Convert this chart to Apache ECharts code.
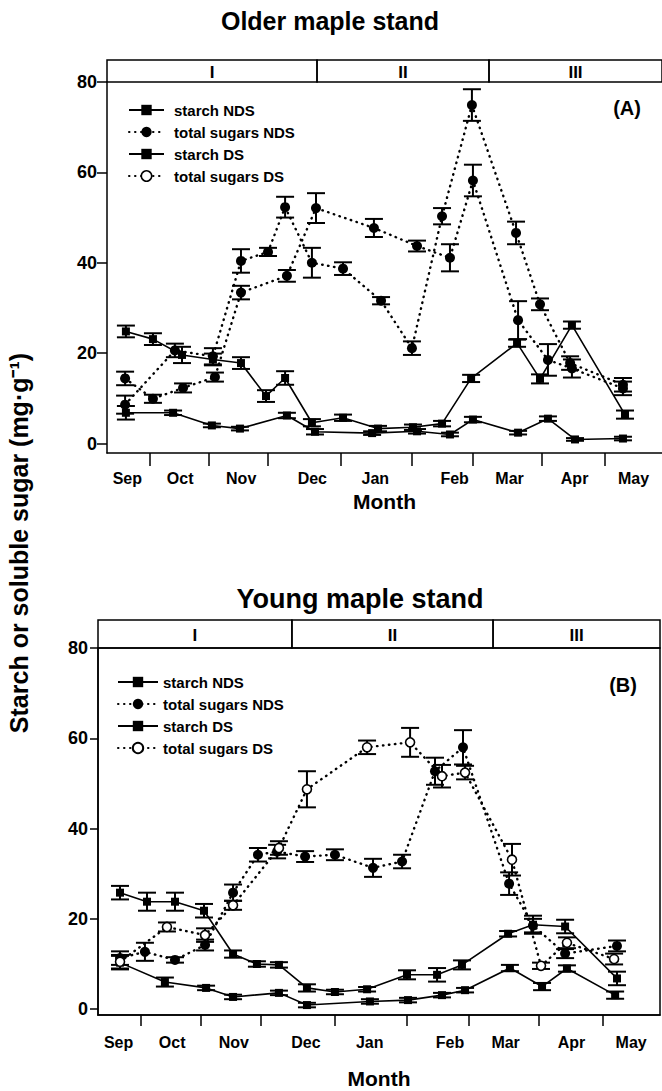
<!DOCTYPE html>
<html><head><meta charset="utf-8">
<script src="https://cdn.jsdelivr.net/npm/echarts@6/dist/echarts.min.js"></script>
<style>html,body{margin:0;padding:0;background:#fff}#c{width:662px;height:1091px}</style>
</head><body><div id="c"></div>
<script>
// ---- axis / category data ----
const DAY_MAX = 273; // days from 1 Sep (axis span)
const monthNames = ['Sep','Oct','Nov','Dec','Jan','Feb','Mar','Apr','May'];
const monthLabelDays = [10, 36, 66, 101, 132, 171, 198, 230, 259];
const monthBoundaryDays = [21, 50, 79, 115, 150, 180, 214, 245];
const yTicks = [0, 20, 40, 60, 80];
const phaseNames = ['I', 'II', 'III'];
const phaseBoundsA = [0, 103.3, 187.9, 273];
const phaseBoundsB = [0, 94.2, 191.9, 273];

// ---- Panel A: older maple stand ----
const A_SNDS_X = [9.3,22.6,36.9,52.1,65.9,78.2,87.6,100.8,116.1,133.3,150.5,164.8,179.1,201.7,213.0,228.7,254.8];
const A_SNDS_Y = [24.8,23.1,19.6,18.6,17.8,10.5,14.5,4.6,5.7,3.3,3.6,4.4,14.4,22.2,14.3,26.2,6.4];
const A_SNDS_E = [1.3,1.3,1.8,1.3,1.3,1.3,1.5,0.8,0.7,0.6,0.6,0.6,0.8,0.8,1.0,0.8,0.9];

const A_SDS_X = [9.3,32.5,51.6,65.4,88.5,102.3,130.4,152.5,168.7,180.0,202.2,216.9,230.2,253.8];
const A_SDS_Y = [6.8,6.8,4.0,3.3,6.2,2.6,2.3,2.7,2.0,5.3,2.4,5.5,0.9,1.1];
const A_SDS_E = [1.5,0.5,0.4,0.4,0.6,0.6,0.4,0.5,0.4,0.6,0.4,0.5,0.3,0.4];

const A_TNDS_X = [8.9,33.4,52.1,65.9,79.2,87.6,100.8,116.1,134.8,150.0,164.8,179.5,201.2,213.0,227.8,253.8];
const A_TNDS_Y = [8.6,20.6,19.3,40.4,42.4,52.3,40.0,38.7,31.6,21.1,50.3,74.9,46.6,30.8,17.8,13.0];
const A_TNDS_E = [2.0,1.5,1.8,2.6,0.9,2.3,3.3,1.4,0.8,1.5,1.8,3.5,2.5,1.3,1.5,1.5];

const A_TDS_X = [8.9,22.6,37.4,53.1,65.9,88.5,102.8,131.3,152.5,168.7,180.0,202.2,216.9,228.7,253.8];
const A_TDS_Y = [14.4,9.9,12.3,14.7,33.4,37.1,52.1,47.7,43.7,41.1,58.2,27.3,18.5,16.6,12.2];
const A_TDS_E = [1.5,0.9,1.0,1.0,1.5,1.3,3.3,2.0,1.2,3.0,3.5,4.2,3.5,2.0,1.5];

// ---- Panel B: young maple stand ----
const B_SNDS_X = [10.7,23.8,37.4,51.5,65.6,77.2,87.9,101.5,115.1,130.7,150.1,164.7,176.8,199.2,211.3,226.9,252.1];
const B_SNDS_Y = [25.8,23.8,23.8,21.8,12.2,10.0,9.8,4.7,3.8,4.4,7.6,7.6,9.8,16.7,18.7,18.3,6.8];
const B_SNDS_E = [1.5,2.0,2.0,1.5,0.8,0.6,0.6,0.8,0.5,0.5,1.0,1.5,1.0,0.6,2.0,1.5,1.5];

const B_SDS_X = [10.7,32.5,52.5,65.6,87.9,101.5,132.1,150.6,167.1,178.3,200.1,215.7,227.8,251.2];
const B_SDS_Y = [10.3,6.0,4.7,2.7,3.6,0.9,1.7,2.0,3.1,4.2,9.1,5.0,9.0,3.1];
const B_SDS_E = [1.5,1.0,0.5,0.5,0.5,0.5,0.5,0.5,0.5,0.5,0.7,0.8,0.7,0.8];

const B_TNDS_X = [10.7,22.8,37.4,52.0,65.6,77.7,87.0,100.6,115.1,133.6,147.7,163.7,177.3,199.7,211.3,226.9,252.1];
const B_TNDS_Y = [11.3,12.7,10.9,14.2,25.8,34.2,34.9,33.8,34.2,31.3,32.7,52.7,58.0,27.8,18.5,12.3,14.0];
const B_TNDS_E = [1.5,2.0,0.6,1.2,1.8,1.5,1.5,1.2,1.2,2.0,1.5,3.0,3.8,2.5,1.5,1.0,1.2];

const B_TDS_X = [10.7,33.5,52.0,65.6,87.9,101.5,130.7,151.6,167.1,178.3,201.1,215.2,227.8,250.7];
const B_TDS_Y = [10.5,18.2,16.4,23.0,35.7,48.7,58.0,59.1,51.6,52.4,33.1,9.6,14.7,11.1];
const B_TDS_E = [1.5,1.0,1.5,1.0,1.5,4.0,1.5,3.2,2.5,1.5,3.5,0.7,1.2,1.2];

// ---- build ----
const FONT = '"Liberation Sans", Arial, Helvetica, sans-serif';
const zip2 = (xs, ys) => xs.map((x, i) => [x, ys[i]]);
const zip3 = (xs, ys, es) => xs.map((x, i) => [x, ys[i], es[i]]);

function errRender(params, api) {
  const x = api.value(0), y = api.value(1), e = api.value(2);
  const lo = api.coord([x, y - e]), hi = api.coord([x, y + e]);
  const w = 9;
  const style = { stroke: '#000', lineWidth: 2 };
  return { type: 'group', children: [
    { type: 'line', shape: { x1: lo[0], y1: lo[1], x2: hi[0], y2: hi[1] }, style },
    { type: 'line', shape: { x1: lo[0] - w, y1: lo[1], x2: lo[0] + w, y2: lo[1] }, style },
    { type: 'line', shape: { x1: hi[0] - w, y1: hi[1], x2: hi[0] + w, y2: hi[1] }, style }
  ]};
}
function stripRender(params, api) {
  const s = api.value(0), e = api.value(1);
  const p0 = api.coord([s, 1]), p1 = api.coord([e, 0]);
  return { type: 'group', children: [
    { type: 'rect', shape: { x: p0[0], y: p0[1], width: p1[0] - p0[0], height: p1[1] - p0[1] },
      style: { fill: 'none', stroke: '#000', lineWidth: 1.5 } },
    { type: 'text', x: (p0[0] + p1[0]) / 2, y: (p0[1] + p1[1]) / 2 + 1,
      style: { text: phaseNames[params.dataIndex], font: 'bold 17px ' + FONT, align: 'center', verticalAlign: 'middle', fill: '#000' } }
  ]};
}
const styles = {
  starch: { symbol: 'rect', symbolSize: 8, itemStyle: { color: '#000' },
            lineStyle: { color: '#000', width: 1.6, type: 'solid' } },
  filled: { symbol: 'circle', symbolSize: 10, itemStyle: { color: '#000' },
            lineStyle: { color: '#000', width: 2.4, type: [0.5, 5.5], cap: 'round' } },
  open:   { symbol: 'circle', symbolSize: 9, itemStyle: { color: '#fff', borderColor: '#000', borderWidth: 1.6 },
            lineStyle: { color: '#000', width: 2.4, type: [0.5, 5.5], cap: 'round' } }
};
function addSeries(list, name, axis, xs, ys, es, kind, z) {
  list.push({ type: 'custom', name: name + ' error', xAxisIndex: axis, yAxisIndex: axis, renderItem: errRender,
    data: zip3(xs, ys, es), encode: { x: 0, y: 1 }, clip: false, z: 2, silent: true });
  list.push(Object.assign({ type: 'line', name: name, xAxisIndex: axis, yAxisIndex: axis,
    data: zip2(xs, ys), showSymbol: true, z: z, clip: false, silent: true }, styles[kind]));
}
const series = [];
series.push({ type: 'custom', name: 'phases A', xAxisIndex: 0, yAxisIndex: 0, renderItem: stripRender, clip: false,
  data: phaseBoundsA.slice(0, 3).map((b, i) => [b, phaseBoundsA[i + 1]]), encode: { x: [0, 1] } });
series.push({ type: 'custom', name: 'phases B', xAxisIndex: 2, yAxisIndex: 2, renderItem: stripRender, clip: false,
  data: phaseBoundsB.slice(0, 3).map((b, i) => [b, phaseBoundsB[i + 1]]), encode: { x: [0, 1] } });

addSeries(series, 'starch NDS|A', 1, A_SNDS_X, A_SNDS_Y, A_SNDS_E, 'starch', 4);
addSeries(series, 'starch DS|A', 1, A_SDS_X, A_SDS_Y, A_SDS_E, 'starch', 4);
addSeries(series, 'total sugars DS|A', 1, A_TDS_X, A_TDS_Y, A_TDS_E, 'filled', 5);
addSeries(series, 'total sugars NDS|A', 1, A_TNDS_X, A_TNDS_Y, A_TNDS_E, 'filled', 5);

addSeries(series, 'starch NDS|B', 3, B_SNDS_X, B_SNDS_Y, B_SNDS_E, 'starch', 4);
addSeries(series, 'starch DS|B', 3, B_SDS_X, B_SDS_Y, B_SDS_E, 'starch', 4);
addSeries(series, 'total sugars NDS|B', 3, B_TNDS_X, B_TNDS_Y, B_TNDS_E, 'filled', 5);
addSeries(series, 'total sugars DS|B', 3, B_TDS_X, B_TDS_Y, B_TDS_E, 'open', 6);

const blk = { color: '#000', width: 1.5 };
function mainX(grid, tickLen, labelMargin, nameGap) {
  return { gridIndex: grid, type: 'value', min: 0, max: DAY_MAX,
    axisLine: { show: true, onZero: false, lineStyle: blk },
    axisTick: { show: true, customValues: monthBoundaryDays, length: tickLen, lineStyle: blk },
    axisLabel: { show: true, customValues: monthLabelDays, margin: labelMargin, hideOverlap: false,
      formatter: v => monthNames[monthLabelDays.indexOf(v)] || '',
      fontFamily: FONT, fontWeight: 'bold', fontSize: 16, color: '#000' },
    splitLine: { show: false },
    name: 'Month', nameLocation: 'middle', nameGap: nameGap,
    nameTextStyle: { fontFamily: FONT, fontWeight: 'bold', fontSize: 21, color: '#000' } };
}
function mainY(grid, min, tickLen) {
  return { gridIndex: grid, type: 'value', min: min, max: 80,
    axisLine: { show: true, onZero: false, lineStyle: blk },
    axisTick: { show: true, customValues: yTicks, length: tickLen, lineStyle: blk },
    axisLabel: { show: true, customValues: yTicks, margin: 10,
      fontFamily: FONT, fontWeight: 'bold', fontSize: 18, color: '#000' },
    splitLine: { show: false } };
}
const hiddenX = g => ({ gridIndex: g, type: 'value', min: 0, max: DAY_MAX, show: false });
const hiddenY = g => ({ gridIndex: g, type: 'value', min: 0, max: 1, show: false });

const legendText = { fontFamily: FONT, fontWeight: 'bold', fontSize: 15, color: '#000', lineHeight: 16 };
const openIcon = { color: '#fff', borderColor: '#000', borderWidth: 1.5 };

const option = {
  animation: false,
  backgroundColor: '#fff',
  grid: [
    { left: 107, right: 0, top: 60, height: 22 },
    { left: 107, right: 0, top: 82, height: 371 },
    { left: 98, right: 2, top: 620, height: 28 },
    { left: 98, right: 2, top: 648, height: 367, show: true, borderColor: '#000', borderWidth: 1.5, backgroundColor: 'transparent' }
  ],
  xAxis: [ hiddenX(0), mainX(1, 13, 17, 38), hiddenX(2), mainX(3, 11, 19, 53) ],
  yAxis: [ hiddenY(0), mainY(1, -2.1, 10), hiddenY(2), mainY(3, -1.3, 8) ],
  legend: [
    { left: 128, top: 102, padding: 0, orient: 'vertical', itemWidth: 35, itemHeight: 13, itemGap: 6, selectedMode: false,
      formatter: n => n.split('|')[0], textStyle: Object.assign({ padding: [0, 0, 0, 5] }, legendText),
      data: ['starch NDS|A', 'total sugars NDS|A', 'starch DS|A', { name: 'total sugars DS|A', itemStyle: openIcon }] },
    { left: 117, top: 674, padding: 0, orient: 'vertical', itemWidth: 40, itemHeight: 13, itemGap: 6, selectedMode: false,
      formatter: n => n.split('|')[0], textStyle: legendText,
      data: ['starch NDS|B', 'total sugars NDS|B', 'starch DS|B', 'total sugars DS|B'] }
  ],
  graphic: [
    { type: 'text', x: 330, y: 21, style: { text: 'Older maple stand', font: 'bold 25px ' + FONT, align: 'center', verticalAlign: 'middle', fill: '#000' } },
    { type: 'text', x: 360, y: 599, style: { text: 'Young maple stand', font: 'bold 27px ' + FONT, align: 'center', verticalAlign: 'middle', fill: '#000' } },
    { type: 'text', x: 627, y: 108, style: { text: '(A)', font: 'bold 20px ' + FONT, align: 'center', verticalAlign: 'middle', fill: '#000' } },
    { type: 'text', x: 623, y: 685, style: { text: '(B)', font: 'bold 20px ' + FONT, align: 'center', verticalAlign: 'middle', fill: '#000' } },
    { type: 'text', x: 19, y: 543, rotation: Math.PI / 2,
      style: { text: 'Starch or soluble sugar (mg\u00b7g\u207b\u00b9)', font: 'bold 25px ' + FONT, align: 'center', verticalAlign: 'middle', fill: '#000' } }
  ],
  series: series
};
const chart = echarts.init(document.getElementById('c'), null, { renderer: 'svg' });
chart.setOption(option);
</script>
</body></html>
